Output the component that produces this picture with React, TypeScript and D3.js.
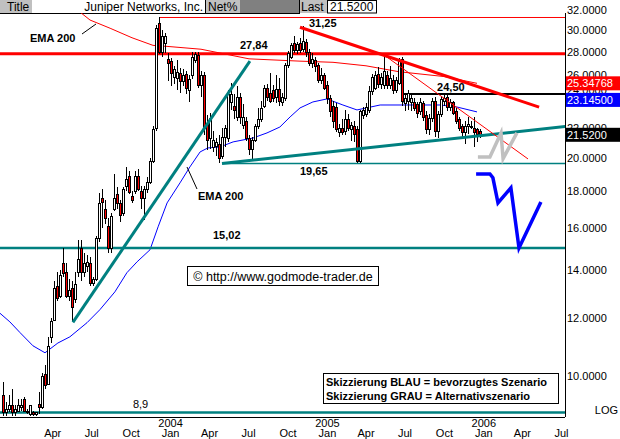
import React from 'react';
import * as d3 from 'd3';

// weekly bars from Fri 6 Dec 2002: [open, high, low, close]
const candles: [number, number, number, number][] = [
  [9.4, 9.8, 8.8, 8.9], [8.9, 9.2, 8.8, 9.0], [9.0, 9.4, 8.9, 9.1], [9.1, 9.6, 8.8, 8.9],
  [8.9, 9.1, 8.8, 9.0], [8.95, 9.3, 8.9, 9.1], [9.05, 9.3, 8.95, 9.1], [9.3, 9.35, 8.9, 8.95],
  [8.95, 9.0, 8.85, 8.9], [8.85, 9.1, 8.8, 9.1], [8.9, 8.95, 8.8, 8.85], [8.85, 8.9, 8.8, 8.9],
  [9.15, 9.5, 8.85, 9.05], [9.05, 10.1, 9.0, 10.0], [10.05, 10.35, 9.6, 9.7], [9.75, 11.3, 9.7, 11.0],
  [11.3, 12.0, 11.1, 11.9], [11.95, 13.5, 11.9, 13.2], [13.3, 13.9, 12.7, 12.8], [12.9, 14.0, 12.8, 13.8],
  [14.3, 15.0, 13.7, 13.85], [13.9, 14.3, 12.8, 12.9], [12.9, 13.6, 12.7, 13.15], [13.2, 13.5, 11.9, 12.45],
  [12.75, 13.9, 12.6, 13.4], [13.9, 15.4, 13.7, 14.5], [15.0, 15.4, 13.5, 13.9], [13.9, 14.8, 13.7, 14.3],
  [14.2, 14.7, 13.9, 14.35], [14.3, 14.6, 13.3, 13.45], [13.45, 13.7, 13.3, 13.6], [13.6, 15.6, 13.5, 15.5],
  [15.5, 17.9, 15.3, 17.3], [17.6, 18.1, 16.0, 17.4], [17.0, 17.5, 16.2, 16.5], [16.1, 16.5, 14.8, 15.0],
  [15.0, 16.8, 14.8, 16.6], [17.0, 19.0, 16.9, 17.6], [17.8, 18.2, 17.0, 17.3], [17.3, 17.5, 16.3, 16.7],
  [16.8, 18.2, 16.6, 18.1], [18.3, 19.4, 18.0, 18.7], [18.85, 19.2, 17.8, 17.95], [17.7, 18.0, 17.3, 17.5],
  [18.0, 19.2, 17.8, 18.9], [18.9, 19.3, 18.0, 18.1], [18.0, 18.3, 17.0, 17.6], [17.6, 18.3, 16.4, 18.1],
  [18.1, 18.8, 17.9, 18.5], [18.5, 20.0, 18.4, 19.8], [19.8, 22.1, 19.7, 21.9], [22.0, 30.5, 21.8, 30.2],
  [30.7, 31.25, 27.8, 28.0], [28.0, 30.0, 27.6, 29.5], [28.8, 29.7, 27.9, 29.5], [27.4, 27.9, 25.5, 27.0],
  [27.2, 27.5, 25.1, 26.2], [25.9, 26.8, 25.3, 26.5], [25.8, 27.3, 24.8, 26.3], [26.2, 26.6, 24.6, 25.5],
  [25.5, 26.5, 25.1, 26.0], [26.1, 26.4, 24.5, 25.0], [24.8, 26.0, 23.9, 25.7], [26.0, 28.0, 25.7, 27.6],
  [27.3, 28.0, 27.0, 27.8], [27.7, 28.0, 25.0, 25.2], [25.2, 26.4, 24.3, 26.0], [26.0, 26.3, 21.5, 22.0],
  [22.3, 22.9, 20.5, 21.2], [21.3, 23.1, 20.6, 22.7], [20.7, 21.8, 20.4, 21.2], [20.8, 21.3, 20.1, 21.0],
  [20.9, 21.5, 19.65, 20.0], [20.1, 22.0, 19.9, 21.4], [21.4, 22.2, 20.7, 22.0], [21.3, 24.8, 21.0, 24.5],
  [23.9, 25.4, 23.3, 24.5], [23.6, 24.5, 22.6, 23.3], [22.8, 25.1, 22.5, 24.3], [24.3, 24.6, 22.3, 22.8],
  [22.2, 23.7, 21.9, 22.8], [22.5, 22.8, 21.1, 21.3], [21.3, 21.5, 20.2, 20.6], [20.6, 21.4, 19.9, 21.2],
  [21.2, 22.3, 21.0, 22.1], [22.1, 23.4, 21.9, 22.6], [22.6, 24.0, 22.4, 23.4], [23.6, 25.2, 23.4, 25.0],
  [25.0, 25.3, 24.0, 24.3], [24.6, 26.2, 23.8, 24.0], [24.8, 25.2, 23.9, 24.2], [24.3, 26.0, 23.8, 24.9],
  [24.9, 25.8, 23.6, 24.0], [23.9, 24.6, 23.6, 24.3], [24.2, 27.0, 24.0, 26.9], [26.9, 28.1, 26.6, 27.9],
  [27.6, 28.8, 27.4, 28.6], [28.8, 29.5, 27.9, 28.2], [28.2, 28.9, 27.8, 28.7], [28.8, 29.3, 27.9, 28.2],
  [28.3, 30.4, 28.0, 29.0], [28.9, 29.2, 27.6, 28.0], [28.0, 28.3, 26.8, 27.0], [27.0, 27.9, 26.6, 27.4],
  [27.3, 27.6, 26.3, 26.8], [26.9, 27.0, 25.4, 25.6], [25.6, 26.6, 25.3, 26.0], [26.0, 26.2, 24.8, 25.0],
  [25.2, 25.5, 23.7, 24.2], [24.2, 24.4, 22.8, 23.2], [23.6, 24.0, 22.0, 22.5], [23.5, 23.8, 21.7, 21.9],
  [21.7, 22.3, 21.4, 22.0], [22.0, 22.6, 21.5, 21.7], [21.8, 23.3, 21.5, 22.6], [22.6, 23.0, 21.8, 22.0],
  [21.9, 22.4, 21.1, 22.2], [22.1, 22.5, 21.0, 21.6], [21.9, 22.1, 19.65, 19.8], [19.8, 23.3, 19.65, 23.2],
  [22.9, 23.5, 22.6, 23.3], [23.0, 23.8, 22.8, 23.5], [23.3, 25.1, 23.1, 24.7], [24.7, 26.1, 24.4, 25.9],
  [25.0, 26.4, 24.8, 26.0], [26.1, 26.7, 25.0, 25.3], [25.3, 26.2, 24.9, 25.9], [25.2, 27.7, 24.9, 26.4],
  [26.0, 26.4, 24.9, 25.2], [25.2, 26.8, 24.9, 25.8], [25.6, 26.0, 24.5, 24.8], [24.8, 25.9, 24.6, 25.6],
  [25.4, 27.5, 25.2, 27.3], [27.4, 27.6, 23.6, 24.0], [23.8, 24.4, 23.2, 24.2], [24.0, 24.8, 23.3, 24.6],
  [23.9, 24.4, 23.2, 24.2], [23.9, 24.2, 23.2, 23.4], [23.7, 23.9, 22.7, 23.1], [23.2, 24.2, 22.9, 23.9],
  [23.8, 24.0, 22.5, 22.8], [22.9, 23.2, 21.6, 21.9], [21.9, 23.0, 21.5, 22.7], [22.7, 24.2, 22.4, 24.0],
  [24.0, 24.3, 21.4, 21.8], [21.8, 23.2, 21.3, 23.0], [23.0, 24.3, 22.8, 24.1], [24.0, 24.5, 23.6, 24.2],
  [24.3, 24.5, 23.2, 23.5], [23.5, 24.1, 23.2, 23.9], [23.9, 24.0, 22.9, 23.1], [23.2, 23.4, 22.3, 22.5],
  [22.6, 22.8, 21.8, 22.0], [22.1, 22.3, 21.4, 21.7], [21.7, 22.5, 20.9, 22.1], [22.1, 22.8, 21.6, 22.3],
  [22.1, 22.5, 21.9, 22.1], [22.0, 22.8, 20.7, 21.7], [21.9, 22.0, 21.0, 21.6], [21.8, 21.9, 21.3, 21.52],
];

const firstWeek = new Date(2002, 11, 6);
const weekDate = (i: number) => new Date(firstWeek.getTime() + i * 7 * 86400000);

const priceTicks = [10, 12, 14, 16, 18, 20, 22, 24, 26, 28, 30, 32];
const monthTicks = [
  '2003-04', '2003-07', '2003-10', '2004-01', '2004-04', '2004-07', '2004-10',
  '2005-01', '2005-04', '2005-07', '2005-10', '2006-01', '2006-04', '2006-07',
];

// moving averages: [week index, price]
const emaRed: [number, number][] = [
  [24, 32.2], [29, 31.0], [35.7, 30.2], [43, 29.3], [50, 28.6], [55, 28.5], [66, 28.25],
  [82, 27.4], [99, 27.2], [110, 27.1], [121, 26.8], [132, 26.3], [147, 25.9], [158, 25.348],
];
const emaBlue: [number, number][] = [
  [-1, 12.2], [2.3, 11.87], [5.7, 11.47], [10, 11.0], [14, 10.76], [18.3, 11.1], [22.3, 11.32],
  [28, 11.84], [32.3, 12.34], [37.3, 13.06], [41.3, 13.88], [44.7, 14.37], [49, 14.93],
  [51.7, 16.06], [54.7, 17.33], [59, 18.47], [62.3, 19.43], [65.7, 20.38], [68.3, 20.64],
  [72.3, 20.7], [76.7, 21.04], [83.3, 21.3], [88, 21.65], [92.3, 22.06], [95.7, 22.78],
  [99, 23.44], [103.3, 23.89], [108, 24.12], [113.3, 23.66], [118, 23.29], [125.7, 23.66],
  [134.7, 23.66], [145.7, 23.66], [151.3, 23.51], [158, 23.145],
];

// drawn trend lines and scenario sketches: [week index, price]
const steepUptrend: [number, number][] = [[23.3, 11.85], [82.3, 27.2]];
const supportLine: [number, number][] = [[73, 19.65], [190, 22.15]];
const downtrend: [number, number][] = [[99, 30.3], [178.7, 23.5]];
const downtrendThin: [number, number][] = [[126.7, 27.8], [175, 19.93]];
const blueSketch: [number, number][] = [
  [157.7, 19.0], [162.3, 19.0], [163.3, 18.77], [165, 17.33], [169.3, 18.18], [172, 15.02], [179.3, 17.38],
];
const greySketch: [number, number][] = [
  [158.3, 20.06], [162.3, 20.06], [166, 21.65], [166.7, 19.95], [171.3, 21.65],
];

const lastEmaRed = 25.34768;
const lastEmaBlue = 23.145;
const lastClose = 21.52;

const font = 'Arial, "Liberation Sans", sans-serif';
const RED = '#ff0000';
const TEAL = '#008080';

export default function App() {
  const right = 565;
  const top = 13;
  const bottom = 416;
  const x = d3.scaleTime().domain([weekDate(0), weekDate(159)]).range([3, 480]);
  const y = d3.scaleLog().domain([8.8, 31.7]).range([bottom, top]);
  const xi = (i: number) => x(weekDate(i));
  const path = d3.line<[number, number]>().x(d => xi(d[0])).y(d => y(d[1]));
  const fmt4 = d3.format('.4f');
  const fmt5 = d3.format('.5f');

  const boxes = [
    { v: lastEmaRed, text: fmt5(lastEmaRed), fill: RED, nudge: 0 },
    { v: lastEmaBlue, text: fmt5(lastEmaBlue), fill: '#0000ff', nudge: -12 },
    { v: lastClose, text: fmt4(lastClose), fill: '#000', nudge: 0 },
  ].map(b => ({ ...b, cy: y(b.v) + b.nudge }));

  // tick labels fully hidden behind a value box are pushed above it
  const tickPos = priceTicks.map(t => {
    let ty = y(t);
    boxes.forEach(b => { if (Math.abs(ty - b.cy) < 4) ty = b.cy - 10; });
    return { t, ty };
  });

  const hLine = (v: number, x1: number, color: string, w: number, key: string) => (
    <line key={key} x1={x1} x2={right} y1={y(v)} y2={y(v)} stroke={color} strokeWidth={w} />
  );

  return (
    <svg width={620} height={439} style={{ position: 'absolute', left: 0, top: 0, background: '#fff' }}
      fontFamily={font}>
      <defs>
        <clipPath id="plot"><rect x={0} y={top} width={right} height={bottom - top + 1} /></clipPath>
      </defs>

      {/* header */}
      <rect x={0} y={0} width={32} height={13} fill="#c0c0c0" />
      <text x={7} y={11} fontSize={12}>Title</text>
      <text x={203} y={11} fontSize={12} textAnchor="end">Juniper Networks, Inc.</text>
      <line x1={205.5} x2={205.5} y1={0} y2={13} stroke="#000" />
      <rect x={206} y={0} width={34} height={13} fill="#c0c0c0" />
      <text x={208} y={11} fontSize={12}>Net%</text>
      <rect x={240} y={0} width={59} height={13} fill="#808080" />
      <line x1={299.5} x2={299.5} y1={0} y2={13} stroke="#000" />
      <rect x={300} y={0} width={27} height={13} fill="#c0c0c0" />
      <text x={301} y={11} fontSize={12}>Last</text>
      <rect x={327.5} y={0.5} width={49} height={12.5} fill="#fff" stroke="#000" />
      <text x={330} y={11} fontSize={12}>{fmt4(lastClose)}</text>
      <line x1={0} x2={300} y1={13.5} y2={13.5} stroke="#000" />

      <g clipPath="url(#plot)">
        <path d={path(emaRed) || ''} fill="none" stroke={RED} strokeWidth={1} />
        <path d={path(emaBlue) || ''} fill="none" stroke="#0000ff" strokeWidth={1} />
        {hLine(31.25, xi(52), RED, 1, 'l3125')}
        {hLine(27.84, 0, RED, 3, 'l2784')}
        {hLine(19.65, xi(73), TEAL, 1.5, 'l1965')}
        {hLine(15.02, 0, TEAL, 2.5, 'l1502')}
        {hLine(8.9, 0, TEAL, 2.5, 'l89')}
        {hLine(24.5, xi(133.3), '#000', 2, 'l245')}
        <line x1={xi(133.3)} x2={xi(133.3)} y1={y(24.5)} y2={y(24.5) + 9} stroke="#000" />

        {candles.map(([o, h, l, c], i) => {
          const cx = Math.round(xi(i)) + 0.5;
          const bt = Math.round(y(Math.max(o, c)));
          const bb = Math.round(y(Math.min(o, c)));
          return (
            <g key={i} shapeRendering="crispEdges">
              <line x1={cx} x2={cx} y1={y(h)} y2={y(l)} stroke="#000" />
              <rect x={cx - 1} y={bt + 0.5} width={2} height={Math.max(bb - bt, 1)}
                fill={c >= o ? '#fff' : RED} stroke="#000" />
            </g>
          );
        })}

        <path d={path(steepUptrend) || ''} stroke={TEAL} strokeWidth={3} fill="none" />
        <path d={path(supportLine) || ''} stroke={TEAL} strokeWidth={3} fill="none" />
        <path d={path(downtrend) || ''} stroke={RED} strokeWidth={3} fill="none" />
        <path d={path(downtrendThin) || ''} stroke={RED} strokeWidth={1} fill="none" />
        <path d={path(greySketch) || ''} stroke="#c0c0c0" strokeWidth={3.5} fill="none" />
        <path d={path(blueSketch) || ''} stroke="#0000ff" strokeWidth={3.5} fill="none" />
      </g>

      {/* level labels */}
      <g fontSize={11} fontWeight="bold">
        <text x={xi(102)} y={y(31.25) + 10}>31,25</text>
        <text x={xi(79)} y={y(27.84) - 5}>27,84</text>
        <text x={xi(144.7)} y={y(24.5) - 3}>24,50</text>
        <text x={xi(99)} y={y(19.65) + 12}>19,65</text>
        <text x={xi(70)} y={y(15.02) - 9}>15,02</text>
        <text x={30} y={42}>EMA 200</text>
        <text x={198} y={200}>EMA 200</text>
      </g>
      <text x={xi(43.3)} y={y(8.9) - 4} fontSize={11}>8,9</text>
      <line x1={82} y1={34} x2={96} y2={24} stroke="#000" />
      <line x1={197} y1={189} x2={187} y2={167} stroke="#000" />

      {/* copyright box */}
      <rect x={187.5} y={266.5} width={191} height={19} fill="#fff" stroke="#000" />
      <text x={283} y={281} fontSize={12.5} textAnchor="middle">© http://www.godmode-trader.de</text>

      {/* legend box */}
      <rect x={323.5} y={373.5} width={235} height={30} fill="#fff" stroke="#000" />
      <g fontSize={11} fontWeight="bold">
        <text x={326} y={386}>Skizzierung BLAU = bevorzugtes Szenario</text>
        <text x={326} y={400}>Skizzierung GRAU = Alternativszenario</text>
      </g>

      {/* price axis */}
      <line x1={right + 0.5} x2={right + 0.5} y1={top} y2={bottom + 1} stroke="#000" />
      <line x1={0} x2={right} y1={bottom + 1.5} y2={bottom + 1.5} stroke="#000" />
      {tickPos.map(({ t, ty }) => (
        <text key={t} x={567} y={ty + 4} fontSize={11}>{fmt4(t)}</text>
      ))}
      {boxes.map(b => (
        <g key={b.text}>
          <rect x={566} y={b.cy - 7} width={54} height={14} fill={b.fill} />
          <text x={567} y={b.cy + 4} fontSize={11} fill="#fff">{b.text}</text>
        </g>
      ))}
      <text x={618} y={414} fontSize={11} textAnchor="end">LOG</text>

      {/* time axis */}
      {monthTicks.map(m => {
        const [yy, mm] = m.split('-').map(Number);
        const d = new Date(yy, mm - 1, 1);
        const px = x(d);
        return (
          <g key={m} fontSize={11} textAnchor="middle">
            {mm === 1 && <text x={px} y={427}>{yy}</text>}
            <text x={px} y={437}>{d3.timeFormat('%b')(d)}</text>
          </g>
        );
      })}
    </svg>
  );
}
